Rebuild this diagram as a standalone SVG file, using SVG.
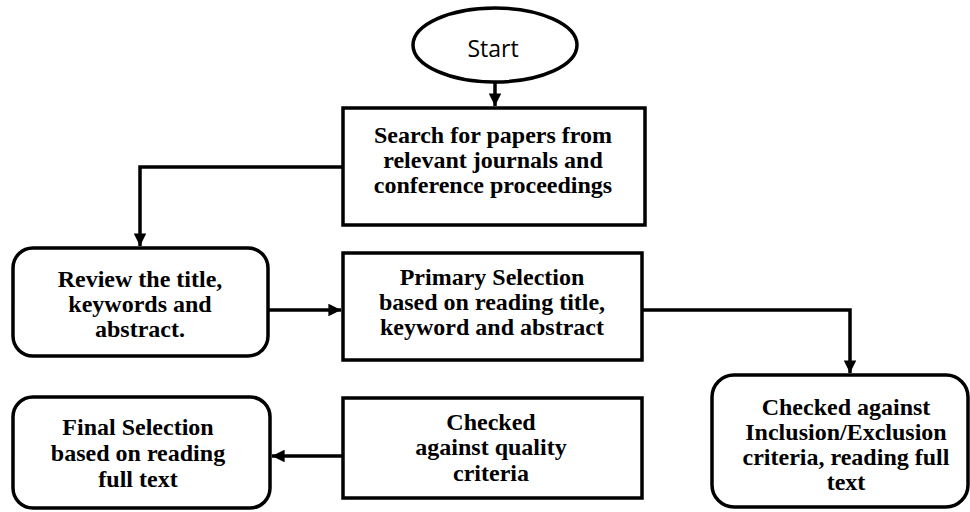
<svg xmlns="http://www.w3.org/2000/svg" width="970" height="512" viewBox="0 0 970 512">
<defs>
<style>
.box{fill:#fff;stroke:#000;stroke-width:3.5}
.t{font-family:"Liberation Serif","Times New Roman",serif;font-weight:bold;font-size:24px;text-anchor:middle;fill:#000}
.s{font-family:"Open Sans","Liberation Sans",sans-serif;font-size:23px;text-anchor:middle;fill:#000}
.c{fill:none;stroke:#000;stroke-width:3.5}
</style>
<marker id="ah" viewBox="0 0 10 10" refX="10" refY="5" markerWidth="3.8" markerHeight="3.6" orient="auto" markerUnits="strokeWidth">
<path d="M0,0 L10,5 L0,10 z" fill="#000"/>
</marker>
</defs>
<rect width="970" height="512" fill="#fff"/>
<g id="connectors">
<path class="c" d="M495,82 V106" marker-end="url(#ah)"/>
<path class="c" d="M343,167 H140 V246" marker-end="url(#ah)"/>
<path class="c" d="M268,310 H341" marker-end="url(#ah)"/>
<path class="c" d="M642,310 H850 V373" marker-end="url(#ah)"/>
<path class="c" d="M343,456 H272" marker-end="url(#ah)"/>
</g>
<g id="start">
<ellipse class="box" cx="495" cy="45" rx="82" ry="37"/>
<text class="s" x="493" y="57">Start</text>
</g>
<g id="search">
<rect class="box" x="343" y="108" width="302" height="117"/>
<text class="t" x="493" y="143">Search for papers from</text>
<text class="t" x="493" y="168">relevant journals and</text>
<text class="t" x="493" y="193">conference proceedings</text>
</g>
<g id="review">
<rect class="box" x="13" y="248" width="255" height="108" rx="20"/>
<text class="t" x="140" y="287">Review the title,</text>
<text class="t" x="140" y="312">keywords and</text>
<text class="t" x="140" y="337">abstract.</text>
</g>
<g id="primary">
<rect class="box" x="343" y="253" width="299" height="107"/>
<text class="t" x="492" y="285">Primary Selection</text>
<text class="t" x="492" y="310">based on reading title,</text>
<text class="t" x="492" y="335">keyword and abstract</text>
</g>
<g id="inclusion">
<rect class="box" x="712" y="375" width="256" height="132" rx="22"/>
<text class="t" x="846" y="415">Checked against</text>
<text class="t" x="846" y="440">Inclusion/Exclusion</text>
<text class="t" x="846" y="465">criteria, reading full</text>
<text class="t" x="846" y="490">text</text>
</g>
<g id="quality">
<rect class="box" x="343" y="398" width="299" height="100"/>
<text class="t" x="491" y="430">Checked</text>
<text class="t" x="491" y="455">against quality</text>
<text class="t" x="491" y="481">criteria</text>
</g>
<g id="final">
<rect class="box" x="13" y="397" width="257" height="111" rx="20"/>
<text class="t" x="138" y="435">Final Selection</text>
<text class="t" x="138" y="461">based on reading</text>
<text class="t" x="138" y="487">full text</text>
</g>
</svg>
